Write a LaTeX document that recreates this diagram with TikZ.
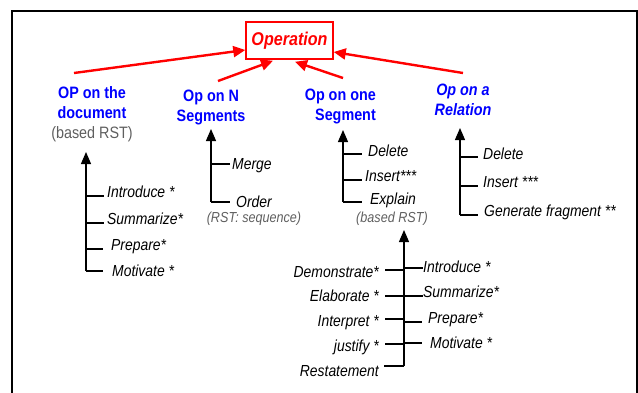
\documentclass[tikz,border=0pt]{standalone}
\usepackage{fontspec}
\setmainfont{Liberation Sans}[FakeStretch=0.87]
\usetikzlibrary{arrows.meta}
\definecolor{opred}{RGB}{255,0,0}
\definecolor{opblue}{RGB}{0,0,255}
\definecolor{notegray}{RGB}{95,95,95}

\begin{document}
\begin{tikzpicture}[x=1pt,y=-1pt,
  cat/.style={font=\bfseries\fontsize{16.5}{20}\selectfont, text=opblue, align=center, inner sep=0pt},
  item/.style={font=\itshape\fontsize{16}{19}\selectfont, inner sep=0pt},
  note/.style={font=\itshape\fontsize{14.5}{17}\selectfont, text=notegray, inner sep=0pt},
  toop/.style={draw=opred, line width=2.4pt, -{Triangle[length=12pt,width=11pt]}},
  trunk/.style={line width=1.3pt, -{Triangle[length=12pt,width=10pt]}},
  twig/.style={line width=1.2pt}]

  \useasboundingbox (0,0) rectangle (638,392);
  \clip (0,0) rectangle (638,392);
  \draw[line width=2.2pt] (12,11) rectangle (637,420);

  % root
  \node[draw=opred, line width=1.5pt, minimum width=87pt, minimum height=37pt,
        font=\bfseries\itshape\fontsize{18.5}{22}\selectfont, text=opred] (op) at (289.5,40.5) {Operation};

  % the four kinds of operation
  \node[cat, anchor=north] (doc) at (92,86) {OP on the\\document\\{\mdseries\color{notegray}(based RST)}};
  \node[cat, anchor=north] (nseg) at (211,90) {Op on N\\Segments};
  \node[cat, anchor=north east, align=right] (oneseg) at (376,89) {Op on one\\Segment};
  \node[cat, anchor=north, font=\bfseries\itshape\fontsize{16.5}{20}\selectfont] (rel) at (463,84) {Op on a\\Relation};

  \coordinate (s1) at (74,73);
  \coordinate (s2) at (218,81);
  \coordinate (s3) at (343,78);
  \coordinate (s4) at (463,73);
  \draw[toop] (s1) -- ([yshift=-9.5pt]op.west);
  \draw[toop] (s2) -- ([xshift=-16.5pt,yshift=-1pt]op.south);
  \draw[toop] (s3) -- ([xshift=5.5pt,yshift=-2pt]op.south);
  \draw[toop] (s4) -- ([yshift=-11.5pt]op.east);

  % on the document
  \coordinate (docB) at (86,271);
  \draw[trunk] (docB) -- (86,152);
  \foreach \ly/\len/\tx/\by/\nm/\txt in {196/18/107/197/dIntro/{Introduce *},
      223/18/107/224/dSumm/{Summarize*}, 249/17/111/250/dPrep/{Prepare*},
      271/17/112/276/dMoti/{Motivate *}} {
    \node[item, anchor=base west] (\nm) at (\tx,\by) {\txt};
    \draw[twig] (docB |- 0,\ly) -- ++(\len,0);
  }

  % on N segments
  \coordinate (nB) at (211,202);
  \draw[trunk] (nB) -- (211,129);
  \foreach \ly/\len/\tx/\by/\nm/\txt in {164/19/232/169/nMerge/Merge,
      202/19/236/207/nOrder/Order} {
    \node[item, anchor=base west] (\nm) at (\tx,\by) {\txt};
    \draw[twig] (nB |- 0,\ly) -- ++(\len,0);
  }
  \node[note, anchor=base] (nNote) at (254,222) {(RST: sequence)};

  % on one segment
  \coordinate (sB) at (343,202);
  \draw[trunk] (sB) -- (343,130);
  \foreach \ly/\len/\tx/\by/\nm/\txt in {154/19/368/156/sDel/Delete,
      180/19/365/181/sIns/{Insert***}, 202/19/370/204/sExp/Explain} {
    \node[item, anchor=base west] (\nm) at (\tx,\by) {\txt};
    \draw[twig] (sB |- 0,\ly) -- ++(\len,0);
  }
  \node[note, anchor=base] (sNote) at (392,222) {(based RST)};

  % on a relation
  \coordinate (rB) at (460,215);
  \draw[trunk] (rB) -- (460,128);
  \foreach \ly/\len/\tx/\by/\nm/\txt in {157/18/483/159/rDel/Delete,
      186/18/483/187/rIns/{Insert ***}, 215/18/484/216/rGen/{Generate fragment **}} {
    \node[item, anchor=base west] (\nm) at (\tx,\by) {\txt};
    \draw[twig] (rB |- 0,\ly) -- ++(\len,0);
  }

  % relations feeding Explain
  \coordinate (bB) at (404,366);
  \draw[trunk] (bB) -- (bB |- 0,230);
  \foreach \ly/\len/\tx/\by/\nm/\txt in {268/19/423/272/bIntro/{Introduce *},
      296/19/423/297/bSumm/{Summarize*}, 322/18/428/323/bPrep/{Prepare*},
      343/18/430/348/bMoti/{Motivate *}} {
    \node[item, anchor=base west] (\nm) at (\tx,\by) {\txt};
    \draw[twig] (bB |- 0,\ly) -- ++(\len,0);
  }
  \foreach \ly/\len/\tx/\by/\nm/\txt in {270/19/379/277/bDemo/{Demonstrate*},
      296/19/379/301/bElab/{Elaborate *}, 319/19/379/326/bInte/{Interpret *},
      344/19/379/351/bJust/{justify *}, 366/20/379/376/bRest/Restatement} {
    \node[item, anchor=base east] (\nm) at (\tx,\by) {\txt};
    \draw[twig] (bB |- 0,\ly) -- ++(-\len,0);
  }
\end{tikzpicture}
\end{document}
